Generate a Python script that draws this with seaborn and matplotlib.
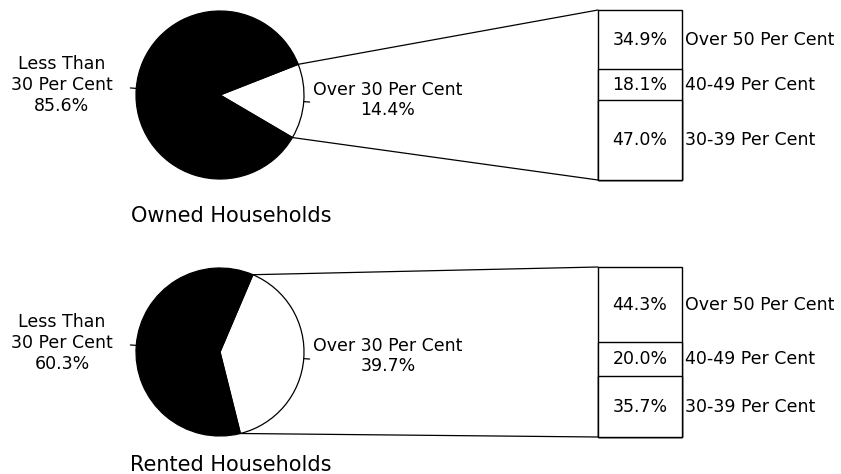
import matplotlib
matplotlib.use("Agg")
import matplotlib.pyplot as plt
import matplotlib.transforms as mtransforms
import seaborn as sns
import numpy as np
from matplotlib.patches import ConnectionPatch

# ---- data ----
groups = ["Owned Households", "Rented Households"]
under30 = [85.6, 60.3]
over30 = [14.4, 39.7]
under_label = "Less Than\n30 Per Cent"
over_label = "Over 30 Per Cent"
sub_labels = ["30-39 Per Cent", "40-49 Per Cent", "Over 50 Per Cent"]
owned_sub = [47.0, 18.1, 34.9]
rented_sub = [35.7, 20.0, 44.3]

sns.set_theme(style="white")
plt.rcParams["font.family"] = ["DejaVu Sans"]
plt.rcParams["text.color"] = "black"

W, H = 841, 474
fig = plt.figure(figsize=(W / 100, H / 100), dpi=100)
fig.patch.set_facecolor("white")


def axrect(l, t, w, h):
    return [l / W, 1 - (t + h) / H, w / W, h / H]


def fx(x):
    return x / W


def fy(y):
    return 1 - y / H


pie_cy = [95, 352]
bar_top = [10, 267]
title_y = [216, 465]
left_lab_y = [85, 343]
right_lab_y = [100, 356]
cx, r = 220, 84
bar_l, bar_w, bar_h = 598, 84, 170
FS = 12.5

for i, (g, u, o, subs) in enumerate(zip(groups, under30, over30, [owned_sub, rented_sub])):
    cy = pie_cy[i]
    pax = fig.add_axes(axrect(cx - r, cy - r, 2 * r, 2 * r))
    start = -o * 1.8 - 4.5
    pax.pie([o, u], colors=["white", "black"], startangle=start, counterclock=True,
            wedgeprops=dict(edgecolor="black", linewidth=0.9))
    pax.set_xlim(-1, 1)
    pax.set_ylim(-1, 1)
    pax.set_aspect("auto")
    pax.axis("off")
    for p in pax.patches:
        p.set_clip_on(False)

    mid_o = np.deg2rad(start + o * 1.8)
    mid_u = np.deg2rad(start + o * 3.6 + u * 1.8)
    for a in (mid_o, mid_u):
        pax.plot([np.cos(a), 1.07 * np.cos(a)], [np.sin(a), 1.07 * np.sin(a)],
                 color="black", lw=0.9, clip_on=False)

    # stacked bar
    bax = fig.add_axes(axrect(bar_l, bar_top[i], bar_w, bar_h))
    cum = np.cumsum(subs)
    for k in range(len(subs) - 1, -1, -1):
        sns.barplot(x=[g], y=[cum[k]], ax=bax, color="white", edgecolor="black",
                    linewidth=1, width=1, errorbar=None, saturation=1)
    bax.set_xlim(-0.5, 0.5)
    bax.set_ylim(0, cum[-1])
    bax.axis("off")
    for p in bax.patches:
        p.set_clip_on(False)
    trans = mtransforms.blended_transform_factory(bax.transAxes, bax.transData)
    bottoms = np.concatenate([[0], cum[:-1]])
    for val, b, lab in zip(subs, bottoms, sub_labels):
        bax.text(0.5, b + val / 2, f"{val:.1f}%", ha="center", va="center",
                 fontsize=FS, transform=trans, color="black")
        bax.text(1.04, b + val / 2, lab, ha="left", va="center", fontsize=FS,
                 transform=trans, color="black")

    # connector lines
    a_top = np.deg2rad(start + o * 3.6)
    a_bot = np.deg2rad(start)
    for a, yb in ((a_top, 1.0), (a_bot, 0.0)):
        con = ConnectionPatch(xyA=(np.cos(a), np.sin(a)), coordsA="data", axesA=pax,
                              xyB=(0.0, yb), coordsB="axes fraction", axesB=bax,
                              color="black", lw=0.9)
        fig.add_artist(con)

    fig.text(fx(62), fy(left_lab_y[i]), f"{under_label}\n{u:.1f}%", ha="center",
             va="center", fontsize=FS, linespacing=1.2, color="black")
    fig.text(fx(388), fy(right_lab_y[i]), f"{over_label}\n{o:.1f}%", ha="center",
             va="center", fontsize=FS, linespacing=1.2, color="black")
    fig.text(fx(231), fy(title_y[i]), g, ha="center", va="center", fontsize=15,
             color="black")

fig.savefig("out.png", dpi=100, facecolor="white")
